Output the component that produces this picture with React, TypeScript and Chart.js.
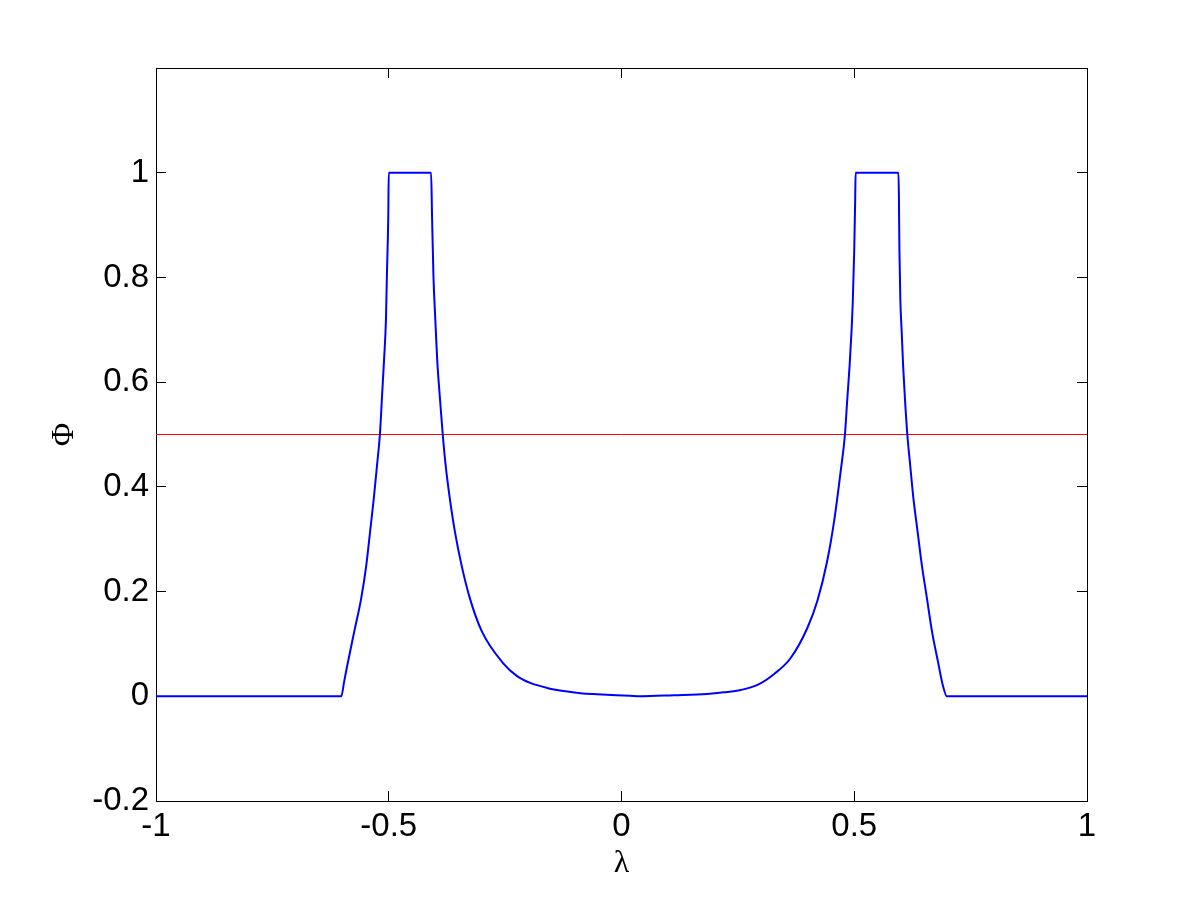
import React, { useEffect, useRef } from "react";
import { Chart, registerables } from "chart.js";

Chart.register(...registerables);

// Φ(λ) curve
const LAMBDA = [
  -1, -0.602, -0.596, -0.59, -0.574, -0.559, -0.548, -0.54, -0.532, -0.525, -0.519,
  -0.514, -0.51, -0.506, -0.504, -0.501, -0.5,
  -0.409, -0.407, -0.404, -0.4, -0.396, -0.391, -0.384, -0.378, -0.369, -0.358,
  -0.344, -0.326, -0.3, -0.253, -0.225, -0.196, -0.16, -0.124, -0.088, -0.053, 0.018,
  0.041, 0.112, 0.184, 0.22, 0.256, 0.292, 0.328, 0.363, 0.399, 0.421, 0.442, 0.457,
  0.471, 0.48, 0.485, 0.49, 0.494, 0.497, 0.5, 0.502, 0.503,
  0.595, 0.596, 0.597, 0.599, 0.602, 0.605, 0.609, 0.614, 0.62, 0.627, 0.636, 0.645,
  0.656, 0.667, 0.681, 0.69, 0.699, 1,
];
const PHI = [
  0, 0, 0.027, 0.055, 0.124, 0.188, 0.252, 0.315, 0.379, 0.443, 0.5,
  0.58, 0.644, 0.72, 0.803, 0.918, 1,
  1, 0.918, 0.803, 0.72, 0.644, 0.58, 0.5, 0.443, 0.379, 0.315,
  0.252, 0.188, 0.124, 0.062, 0.039, 0.0255, 0.016, 0.01, 0.0057, 0.0038, 0.001,
  0, 0.002, 0.0045, 0.0076, 0.012, 0.0217, 0.0427, 0.0726, 0.13, 0.183, 0.259, 0.336,
  0.431, 0.5, 0.567, 0.631, 0.695, 0.758, 0.854, 0.95, 1,
  1, 0.95, 0.854, 0.758, 0.695, 0.631, 0.567, 0.5, 0.443, 0.379, 0.315, 0.252,
  0.188, 0.124, 0.061, 0.022, 0, 0,
];

// Threshold line
const THRESHOLD_LAMBDA = [-1, 1];
const THRESHOLD_PHI = [0.5, 0.5];

// Axes
const X_TICKS = [-1, -0.5, 0, 0.5, 1];
const Y_TICKS = [-0.2, 0, 0.2, 0.4, 0.6, 0.8, 1];
const X_RANGE = [-1, 1];
const Y_RANGE = [-0.2, 1.2];
const X_TITLE = "λ";
const Y_TITLE = "Φ";

export default function App() {
  const ref = useRef<HTMLCanvasElement>(null);

  useEffect(() => {
    const canvas = ref.current;
    if (!canvas) return;
    const fmt = (v: any) => String(Math.round(Number(v) * 10) / 10);
    const tickFont = { family: "'Liberation Sans', Arial, sans-serif", size: 33 };
    const titleFont = { family: "'Liberation Serif', 'Times New Roman', serif", size: 32 };
    const grid = {
      display: true,
      drawOnChartArea: false,
      drawTicks: true,
      tickLength: -10,
      color: "#000000",
      lineWidth: 1,
    };
    const border = { display: true, color: "#000000", width: 1 };
    const setX = (s: any) => {
      s.ticks = X_TICKS.map((v) => ({ value: v }));
    };
    const setY = (s: any) => {
      s.ticks = Y_TICKS.map((v) => ({ value: v }));
    };

    const chart = new Chart(canvas, {
      type: "line",
      data: {
        datasets: [
          {
            data: LAMBDA.map((x, i) => ({ x, y: PHI[i] })),
            borderColor: "#0000ff",
            borderWidth: 2,
            pointRadius: 0,
            fill: false,
            cubicInterpolationMode: "monotone",
          },
          {
            data: THRESHOLD_LAMBDA.map((x, i) => ({ x, y: THRESHOLD_PHI[i] })),
            borderColor: "#ff0000",
            borderWidth: 1,
            pointRadius: 0,
            fill: false,
            tension: 0,
          },
        ],
      },
      options: {
        animation: false,
        responsive: false,
        maintainAspectRatio: false,
        events: [],
        layout: { padding: { left: 0, right: 113, top: 68, bottom: 0 } },
        plugins: { legend: { display: false }, tooltip: { enabled: false } },
        scales: {
          x: {
            type: "linear",
            position: "bottom",
            min: X_RANGE[0],
            max: X_RANGE[1],
            afterBuildTicks: setX,
            afterFit: (s: any) => {
              s.height = 99;
            },
            ticks: {
              font: tickFont,
              color: "#000000",
              padding: 16,
              maxRotation: 0,
              autoSkip: false,
              callback: fmt,
            },
            grid,
            border,
            title: {
              display: true,
              text: X_TITLE,
              font: titleFont,
              color: "#000000",
              padding: { top: 0, bottom: 17 },
            },
          },
          x2: {
            type: "linear",
            position: "top",
            min: X_RANGE[0],
            max: X_RANGE[1],
            afterBuildTicks: setX,
            afterFit: (s: any) => {
              s.height = 0;
            },
            ticks: { display: false },
            grid,
            border,
          },
          y: {
            type: "linear",
            position: "left",
            min: Y_RANGE[0],
            max: Y_RANGE[1],
            afterBuildTicks: setY,
            afterFit: (s: any) => {
              s.width = 156;
            },
            ticks: {
              font: tickFont,
              color: "#000000",
              padding: 17,
              autoSkip: false,
              callback: fmt,
            },
            grid,
            border,
            title: {
              display: true,
              text: Y_TITLE,
              font: titleFont,
              color: "#000000",
              padding: { top: 45, bottom: 0 },
            },
          },
          y2: {
            type: "linear",
            position: "right",
            min: Y_RANGE[0],
            max: Y_RANGE[1],
            afterBuildTicks: setY,
            afterFit: (s: any) => {
              s.width = 0;
            },
            ticks: { display: false },
            grid,
            border,
          },
        },
      },
    } as any);

    return () => chart.destroy();
  }, []);

  return (
    <div style={{ position: "absolute", left: 0, top: 0, width: 1200, height: 900, background: "#ffffff" }}>
      <canvas ref={ref} width={1200} height={900} style={{ display: "block", width: 1200, height: 900 }} />
    </div>
  );
}
